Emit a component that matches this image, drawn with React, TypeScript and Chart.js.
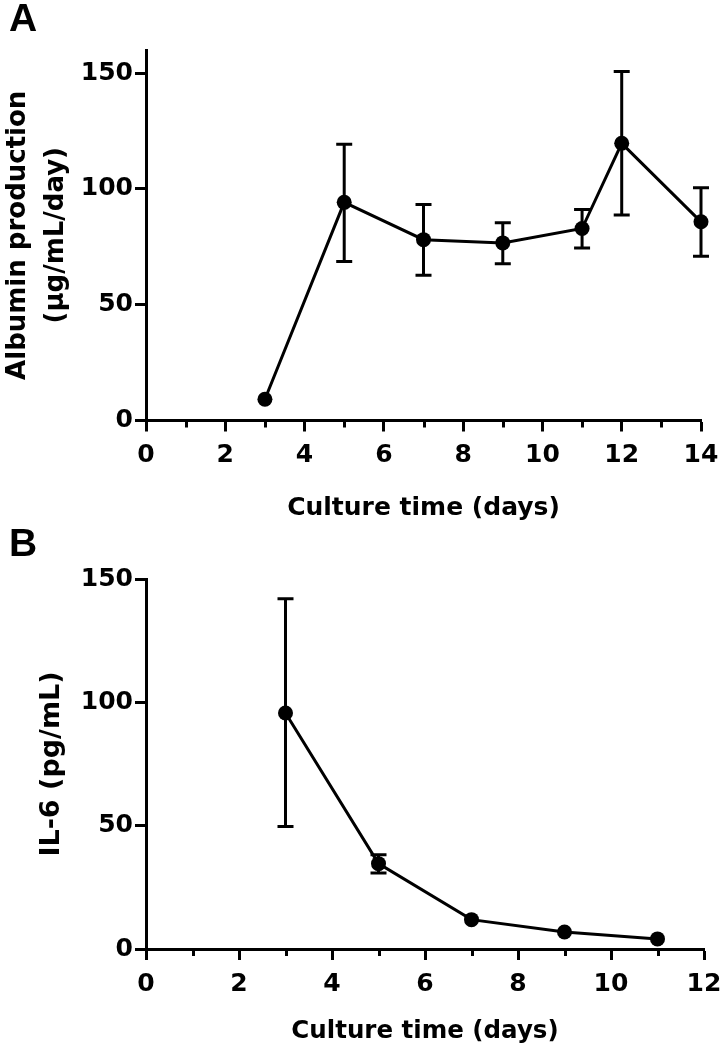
import React, { useEffect, useRef } from "react";
import { Chart, registerables } from "chart.js";

Chart.register(...registerables);

// ---------- Panel A: albumin production ----------
const daysA = [3, 5, 7, 9, 11, 12, 14];
const albumin = [9.2, 94.2, 78.1, 76.7, 82.9, 119.7, 85.8];
const albuminHigh = [null, 119.3, 93.3, 85.4, 91.1, 150.7, 100.5];
const albuminLow = [null, 68.7, 62.7, 67.7, 74.5, 88.7, 70.9];
const xTicksA = [0, 2, 4, 6, 8, 10, 12, 14];
const xMinorA = [1, 3, 5, 7, 9, 11, 13];
const yTicksA = [0, 50, 100, 150];
const yMaxA = 160;

// ---------- Panel B: IL-6 ----------
const daysB = [3, 5, 7, 9, 11];
const il6 = [95.7, 34.6, 11.9, 6.9, 4.1];
const il6High = [142, 38.2, null, null, null];
const il6Low = [49.7, 30.8, null, null, null];
const xTicksB = [0, 2, 4, 6, 8, 10, 12];
const xMinorB = [1, 3, 5, 7, 9, 11];
const yTicksB = [0, 50, 100, 150];
const yMaxB = 150;

const FONT = "'DejaVu Sans', sans-serif";

type PanelSpec = {
  xs: number[];
  ys: number[];
  hi: (number | null)[];
  lo: (number | null)[];
  xTicks: number[];
  xMinor: number[];
  yTicks: number[];
  yMax: number;
  yTitle: string | string[];
  yTitleSize: number;
  yTitleLH: number;
  yTitlePad: number;
  xTitleSize: number;
  xTitlePad: number;
  padTop: number;
  padRight: number;
  xAxisHeight: number;
};

function makeConfig(s: PanelSpec): any {
  const errorBars = {
    id: "errorBars",
    afterDatasetsDraw(chart: any) {
      const { ctx } = chart;
      const x = chart.scales.x;
      const y = chart.scales.y;
      ctx.save();
      ctx.strokeStyle = "#000";
      ctx.lineWidth = 3;
      s.xs.forEach((xv, i) => {
        const h = s.hi[i];
        const l = s.lo[i];
        if (h == null || l == null) return;
        const px = x.getPixelForValue(xv);
        const pt = y.getPixelForValue(h);
        const pb = y.getPixelForValue(l);
        ctx.beginPath();
        ctx.moveTo(px, pt);
        ctx.lineTo(px, pb);
        ctx.moveTo(px - 8, pt);
        ctx.lineTo(px + 8, pt);
        ctx.moveTo(px - 8, pb);
        ctx.lineTo(px + 8, pb);
        ctx.stroke();
      });
      ctx.restore();
    },
  };
  const minorTicks = {
    id: "minorTicks",
    afterDraw(chart: any) {
      const { ctx } = chart;
      const x = chart.scales.x;
      ctx.save();
      ctx.strokeStyle = "#000";
      ctx.lineWidth = 3;
      s.xMinor.forEach((v) => {
        const px = Math.round(x.getPixelForValue(v)) + 0.5;
        ctx.beginPath();
        ctx.moveTo(px, x.top);
        ctx.lineTo(px, x.top + 7);
        ctx.stroke();
      });
      ctx.restore();
    },
  };
  const tickFont = { family: FONT, size: 25, weight: "bold" as const, lineHeight: 1.2 };
  return {
    type: "line",
    data: {
      datasets: [
        {
          data: s.xs.map((x, i) => ({ x, y: s.ys[i] })),
          borderColor: "#000",
          backgroundColor: "#000",
          borderWidth: 3,
          pointRadius: 7.5,
          pointHoverRadius: 7.5,
          pointBackgroundColor: "#000",
          pointBorderWidth: 0,
          tension: 0,
          clip: false,
        },
      ],
    },
    options: {
      responsive: false,
      animation: false,
      events: [],
      layout: { padding: { top: s.padTop, right: s.padRight, left: 0, bottom: 0 } },
      plugins: { legend: { display: false }, tooltip: { enabled: false }, title: { display: false } },
      scales: {
        x: {
          type: "linear",
          min: 0,
          max: s.xTicks[s.xTicks.length - 1],
          afterBuildTicks: (scale: any) => {
            scale.ticks = s.xTicks.map((v) => ({ value: v }));
          },
          afterFit: (scale: any) => {
            scale.height = s.xAxisHeight;
            scale.paddingLeft = 0;
            scale.paddingRight = 0;
          },
          border: { display: true, color: "#000", width: 3 },
          grid: {
            display: true,
            drawOnChartArea: false,
            drawTicks: true,
            tickLength: 11,
            tickWidth: 3,
            tickColor: "#000",
          },
          ticks: { color: "#000", font: tickFont, padding: 9, maxRotation: 0, autoSkip: false },
          title: {
            display: true,
            text: "Culture time (days)",
            color: "#000",
            font: { family: FONT, size: s.xTitleSize, weight: "bold", lineHeight: 1.2 },
            padding: { top: 0, bottom: s.xTitlePad },
          },
        },
        y: {
          type: "linear",
          min: 0,
          max: s.yMax,
          afterBuildTicks: (scale: any) => {
            scale.ticks = s.yTicks.map((v) => ({ value: v }));
          },
          afterFit: (scale: any) => {
            scale.width = 146;
            scale.paddingTop = 0;
            scale.paddingBottom = 0;
          },
          border: { display: true, color: "#000", width: 3 },
          grid: {
            display: true,
            drawOnChartArea: false,
            drawTicks: true,
            tickLength: 11,
            tickWidth: 3,
            tickColor: "#000",
          },
          ticks: { color: "#000", font: tickFont, padding: 2, autoSkip: false },
          title: {
            display: true,
            text: s.yTitle,
            color: "#000",
            font: { family: FONT, size: s.yTitleSize, weight: "bold", lineHeight: s.yTitleLH },
            padding: { top: s.yTitlePad, bottom: 0 },
          },
        },
      },
    },
    plugins: [errorBars, minorTicks],
  };
}

function Panel({ top, height, spec }: { top: number; height: number; spec: PanelSpec }) {
  const ref = useRef<HTMLCanvasElement>(null);
  useEffect(() => {
    const chart = new Chart(ref.current as HTMLCanvasElement, makeConfig(spec));
    return () => chart.destroy();
  }, []);
  return (
    <canvas
      ref={ref}
      width={721}
      height={height}
      style={{ position: "absolute", left: 0, top, width: 721, height, display: "block" }}
    />
  );
}

const specA: PanelSpec = {
  xs: daysA,
  ys: albumin,
  hi: albuminHigh,
  lo: albuminLow,
  xTicks: xTicksA,
  xMinor: xMinorA,
  yTicks: yTicksA,
  yMax: yMaxA,
  yTitle: ["Albumin production", "(µg/mL/day)"],
  yTitleSize: 26,
  yTitleLH: 1.46,
  yTitlePad: -1,
  xTitleSize: 25,
  xTitlePad: 2,
  padTop: 50,
  padRight: 20,
  xAxisHeight: 104.5,
};

const specB: PanelSpec = {
  xs: daysB,
  ys: il6,
  hi: il6High,
  lo: il6Low,
  xTicks: xTicksB,
  xMinor: xMinorB,
  yTicks: yTicksB,
  yMax: yMaxB,
  yTitle: "IL-6 (pg/mL)",
  yTitleSize: 27,
  yTitleLH: 1.2,
  yTitlePad: 36,
  xTitleSize: 24.5,
  xTitlePad: 7,
  padTop: 54,
  padRight: 17,
  xAxisHeight: 104,
};

const letterStyle: React.CSSProperties = {
  position: "absolute",
  left: 9,
  fontFamily: "'Liberation Sans', Arial, sans-serif",
  fontWeight: "bold",
  fontSize: 39,
  lineHeight: "39px",
  color: "#000",
  margin: 0,
};

export default function App() {
  return (
    <div style={{ position: "absolute", left: 0, top: 0, width: 721, height: 1053, background: "#fff", overflow: "hidden" }}>
      <Panel top={0} height={525} spec={specA} />
      <Panel top={525} height={528} spec={specB} />
      <div style={{ ...letterStyle, top: -2 }}>A</div>
      <div style={{ ...letterStyle, top: 523 }}>B</div>
    </div>
  );
}
